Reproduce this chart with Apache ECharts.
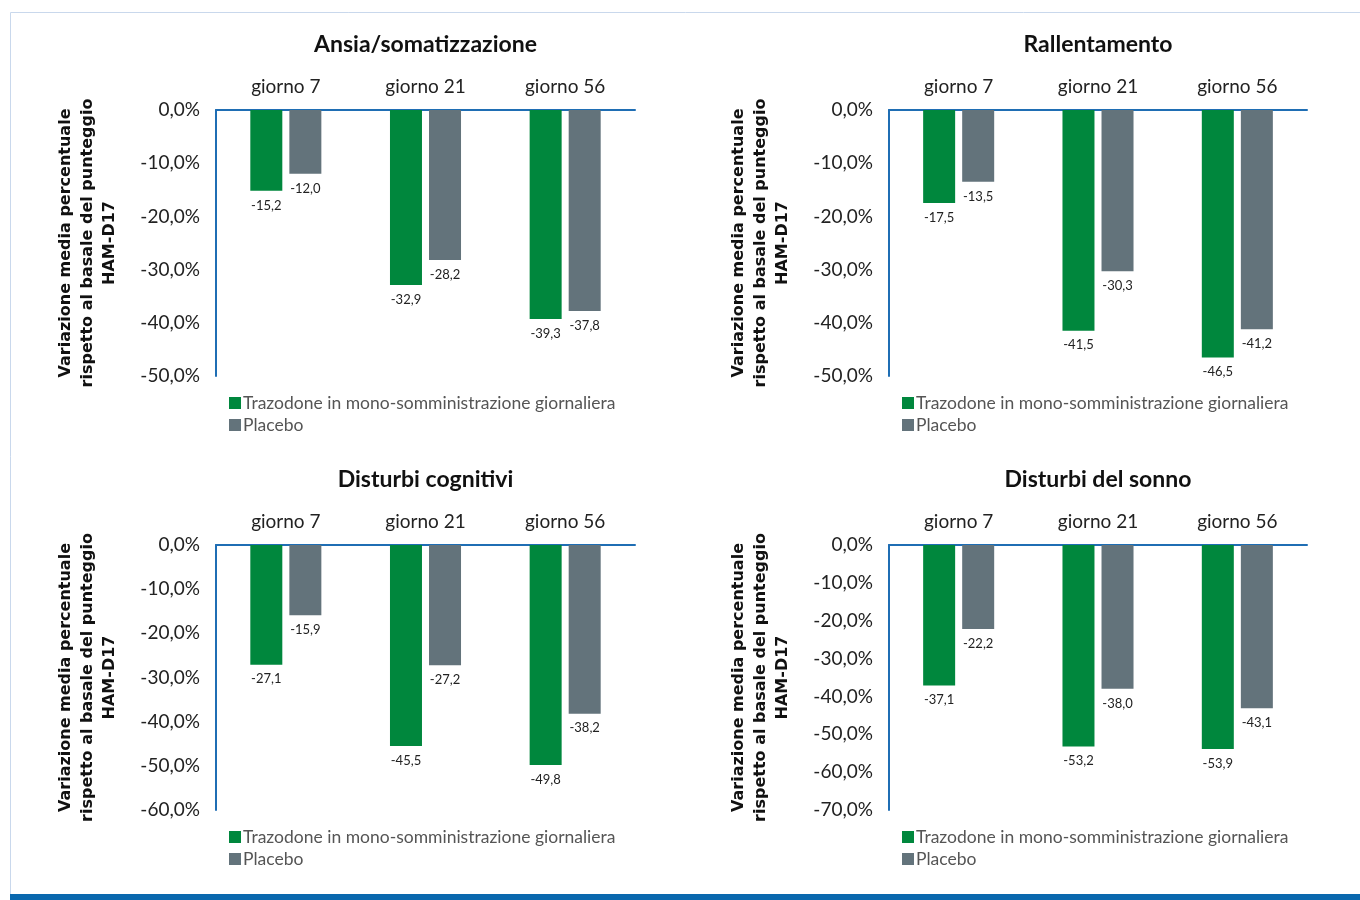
<!DOCTYPE html>
<html>
<head>
<meta charset="utf-8">
<script src="https://cdn.jsdelivr.net/npm/echarts@6/dist/echarts.min.js"></script>
<style>
  html, body { margin: 0; padding: 0; background: #fff; }
  #chart { width: 1360px; height: 900px; }
</style>
</head>
<body>
<div id="chart"></div>
<script>
const categories = ['giorno 7', 'giorno 21', 'giorno 56'];
const seriesNames = ['Trazodone in mono-somministrazione giornaliera', 'Placebo'];
const panelTitles = ['Ansia/somatizzazione', 'Rallentamento', 'Disturbi cognitivi', 'Disturbi del sonno'];
const axisMins = [-50, -50, -60, -70];

const ansiaTrazodone = [-15.2, -32.9, -39.3];
const ansiaPlacebo = [-12.0, -28.2, -37.8];
const rallentamentoTrazodone = [-17.5, -41.5, -46.5];
const rallentamentoPlacebo = [-13.5, -30.3, -41.2];
const cognitiviTrazodone = [-27.1, -45.5, -49.8];
const cognitiviPlacebo = [-15.9, -27.2, -38.2];
const sonnoTrazodone = [-37.1, -53.2, -53.9];
const sonnoPlacebo = [-22.2, -38.0, -43.1];

const panelData = [
  [ansiaTrazodone, ansiaPlacebo],
  [rallentamentoTrazodone, rallentamentoPlacebo],
  [cognitiviTrazodone, cognitiviPlacebo],
  [sonnoTrazodone, sonnoPlacebo]
];

const FONT = 'Lato, "Noto Sans", sans-serif';
const GREEN = '#00873d';
const GREY = '#63737b';
const BLUE = '#1f6eb4';

// layout of the four panels
const panels = [
  {left: 216, top: 110, width: 419, height: 266},
  {left: 889, top: 110, width: 418, height: 266},
  {left: 216, top: 545, width: 419, height: 265},
  {left: 889, top: 545, width: 418, height: 265}
];

const fmt = v => v.toFixed(1).replace('.', ',');

let grids = [], xAxes = [], yAxes = [], series = [], legends = [], graphics = [];

panels.forEach((p, i) => {
  grids.push({left: p.left, top: p.top, width: p.width, height: p.height});
  xAxes.push({
    gridIndex: i,
    type: 'category',
    position: 'top',
    data: categories,
    axisLine: {lineStyle: {color: BLUE, width: 2}},
    axisTick: {show: false},
    axisLabel: {fontSize: 19, color: '#222', margin: 14, fontFamily: FONT}
  });
  yAxes.push({
    gridIndex: i,
    type: 'value',
    min: axisMins[i],
    max: 0,
    interval: 10,
    axisLine: {show: true, lineStyle: {color: BLUE, width: 2}},
    axisTick: {show: false},
    splitLine: {show: false},
    axisLabel: {fontSize: 19, color: '#222', margin: 16, fontFamily: FONT,
      formatter: v => fmt(v) + '%'}
  });
  [GREEN, GREY].forEach((c, k) => {
    series.push({
      name: seriesNames[k],
      type: 'bar',
      xAxisIndex: i,
      yAxisIndex: i,
      data: panelData[i][k],
      barWidth: 32,
      barGap: '22%',
      itemStyle: {color: c},
      label: {
        show: true, position: 'bottom', distance: 8,
        fontSize: 13, color: '#222', fontFamily: FONT,
        formatter: d => fmt(d.value)
      }
    });
  });
  legends.push({
    left: p.left + 8,
    top: p.top + p.height + 13,
    orient: 'vertical',
    icon: 'rect',
    itemWidth: 12,
    itemHeight: 12,
    itemGap: 4,
    data: seriesNames,
    textStyle: {fontSize: 17.5, color: '#555', fontFamily: FONT, padding: [0, 0, 0, -3]}
  });
  // panel title
  graphics.push({
    type: 'text',
    x: p.left + p.width / 2,
    y: p.top - 65,
    style: {
      text: panelTitles[i],
      font: 'bold 23px Lato, "Noto Sans", sans-serif',
      fill: '#111',
      align: 'center',
      verticalAlign: 'middle'
    }
  });
  // y axis title
  graphics.push({
    type: 'text',
    x: p.left - 128,
    y: p.top + p.height / 2,
    rotation: Math.PI / 2,
    style: {
      text: 'Variazione media percentuale\nrispetto al basale del punteggio\nHAM-D17',
      font: 'bold 16px "DejaVu Sans", sans-serif',
      fill: '#111',
      align: 'center',
      verticalAlign: 'middle',
      lineHeight: 22
    }
  });
});

// frame and bottom band
graphics.push({
  type: 'rect', shape: {x: 10.5, y: 12.5, width: 1360, height: 900},
  style: {fill: 'none', stroke: '#c9d8ec', lineWidth: 1}, z: -1
});
graphics.push({
  type: 'rect', shape: {x: 10, y: 894, width: 1350, height: 6},
  style: {fill: '#0a68ae'}
});

const chart = echarts.init(document.getElementById('chart'));
chart.setOption({
  animation: false,
  textStyle: {fontFamily: FONT},
  legend: legends,
  grid: grids,
  xAxis: xAxes,
  yAxis: yAxes,
  series: series,
  graphic: graphics
});
</script>
</body>
</html>
